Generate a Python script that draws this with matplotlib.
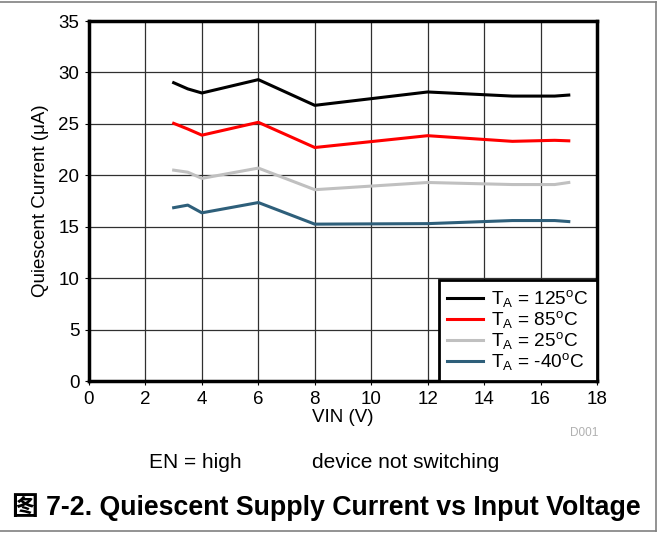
import matplotlib
matplotlib.use('Agg')
import matplotlib.pyplot as plt
from matplotlib.lines import Line2D

plt.rcParams['font.family'] = ['Liberation Sans', 'Noto Sans CJK SC', 'DejaVu Sans']
plt.rcParams['mathtext.fontset'] = 'custom'
plt.rcParams['mathtext.rm'] = 'Liberation Sans'
plt.rcParams['mathtext.it'] = 'Liberation Sans'

# VIN (V) sample points
vin = [3, 3.5, 4, 6, 8, 12, 15, 16.5, 17]
# quiescent current (uA) per ambient temperature
iq_125 = [29.0, 28.4, 28.0, 29.3, 26.8, 28.1, 27.7, 27.7, 27.8]
iq_85 = [25.05, 24.5, 23.9, 25.15, 22.7, 23.85, 23.3, 23.4, 23.35]
iq_25 = [20.5, 20.3, 19.7, 20.7, 18.6, 19.3, 19.1, 19.1, 19.3]
iq_m40 = [16.85, 17.1, 16.35, 17.35, 15.25, 15.3, 15.6, 15.6, 15.5]
labels = ['125', '85', '25', '-40']
colors = ['#000000', '#ff0000', '#c0c0c0', '#2e5f7a']

W, H = 658, 533
fig = plt.figure(figsize=(W/100, H/100), dpi=100, facecolor='white')
ax = fig.add_axes([89/W, 1-381/H, (597-89)/W, (381-21)/H])

for ys, c, t in zip([iq_125, iq_85, iq_25, iq_m40], colors, labels):
    ax.plot(vin, ys, color=c, lw=2.2, label=r'T$_{\rm A}$ = %s$^{\rm o}$C' % t, zorder=3)

ax.set_xlim(0, 18); ax.set_ylim(0, 35)
ax.set_xticks(range(0, 19, 2)); ax.set_yticks(range(0, 36, 5))
ax.grid(True, color='#303030', lw=0.9, zorder=0)
for s in ax.spines.values():
    s.set_linewidth(2.5)
ax.tick_params(labelsize=13.5, length=3, width=0.8, pad=4)
ax.set_xlabel('VIN (V)', fontsize=13.5, labelpad=1)
ax.set_ylabel('Quiescent Current (\u03bcA)', fontsize=13.5, labelpad=7)

leg = ax.legend(loc='lower right', fontsize=13.7, frameon=True, fancybox=False,
                borderaxespad=0, handlelength=1.9, labelspacing=0.0,
                borderpad=0.45, handletextpad=0.4)
leg.get_frame().set_edgecolor('black'); leg.get_frame().set_linewidth(2)
leg.get_frame().set_alpha(1)

fig.text(598/W, 1-433/H, 'D001', fontsize=8.5, color='#b0b0b0', ha='right', va='center')
fig.text(195/W, 1-462/H, 'EN = high', fontsize=15, ha='center', va='center')
fig.text(406/W, 1-462/H, 'device not switching', fontsize=15, ha='center', va='center')
fig.text(12/W, 1-507/H, '图 7-2. Quiescent Supply Current vs Input Voltage',
         fontsize=19.3, weight='bold', ha='left', va='center')

# page frame
for xs, ys in [([0, 656], [531, 531]), ([0, 656], [2, 2]), ([656, 656], [2, 531])]:
    fig.add_artist(Line2D([x/W for x in xs], [1-y/H for y in ys], color='#808080', lw=1.2))

fig.savefig('out.png', dpi=100, facecolor='white')
